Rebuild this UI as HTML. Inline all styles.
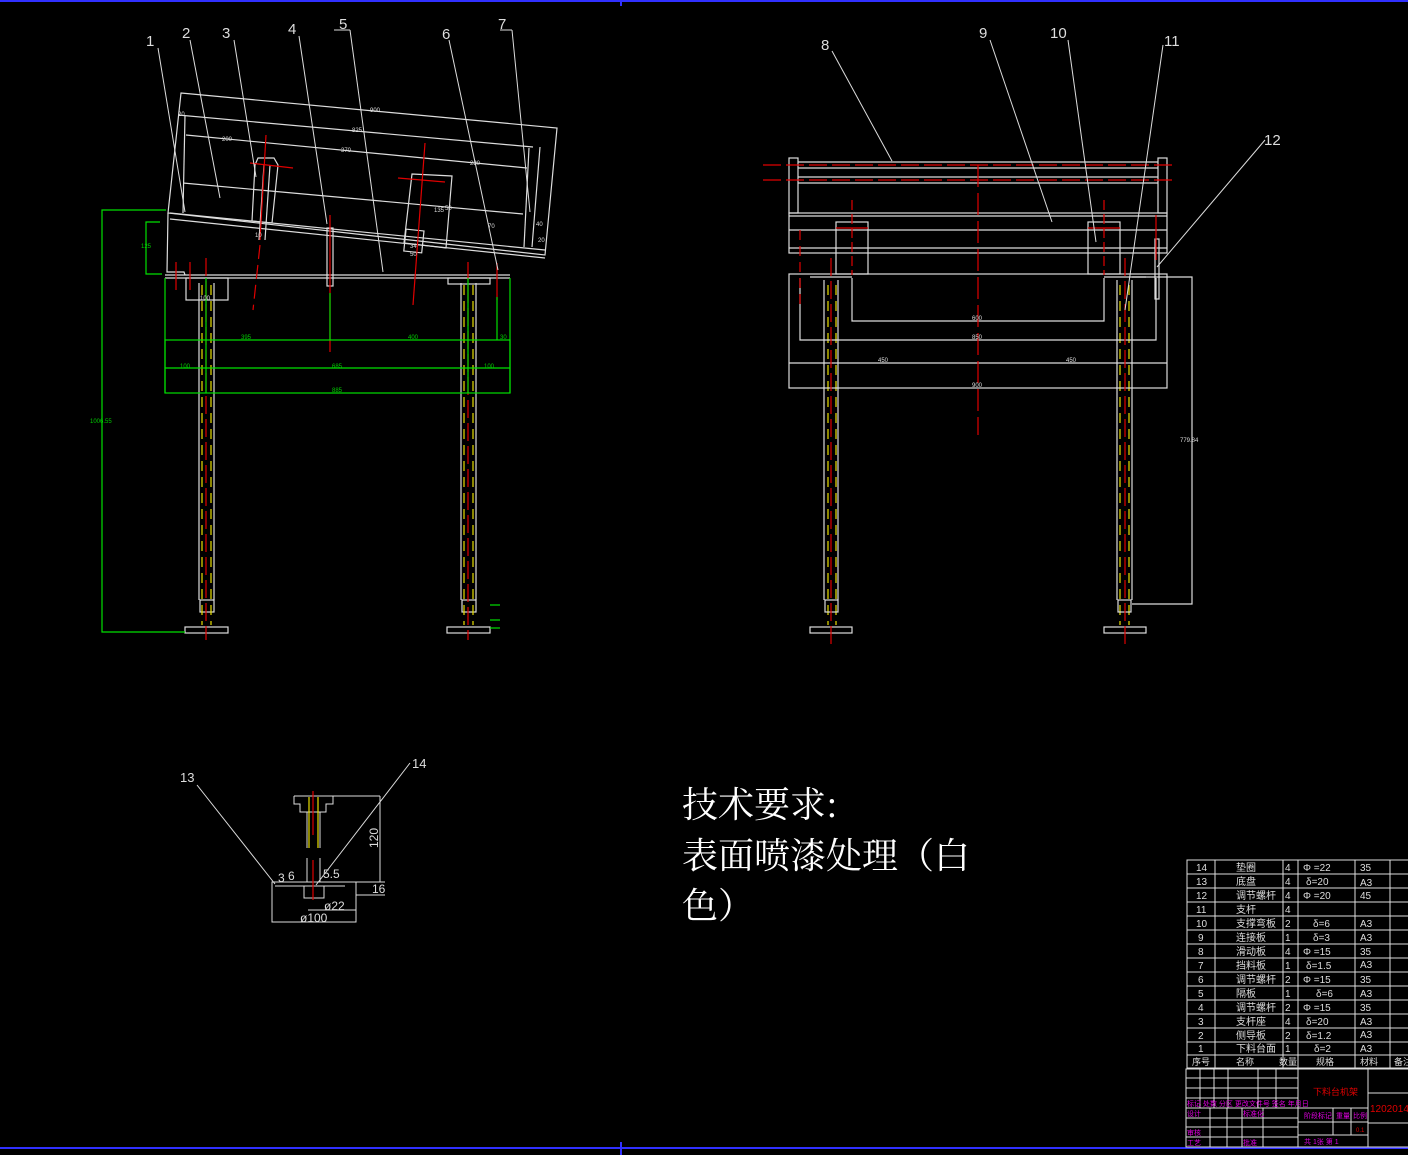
<!DOCTYPE html>
<html><head><meta charset="utf-8"><style>
html,body{margin:0;padding:0;background:#000;}
svg{display:block;}
text{font-family:"Liberation Sans","Noto Sans CJK SC",sans-serif;}
</style></head><body>
<svg width="1408" height="1155" viewBox="0 0 1408 1155" xmlns="http://www.w3.org/2000/svg">
<rect width="1408" height="1155" fill="#000"/>
<!-- border -->
<line x1="0" y1="1" x2="1408" y2="1" stroke="#3030ff" stroke-width="2"/>
<line x1="0" y1="1148" x2="1408" y2="1148" stroke="#3030ff" stroke-width="2"/>
<line x1="621" y1="0" x2="621" y2="6" stroke="#3030ff" stroke-width="2"/>
<line x1="621" y1="1142" x2="621" y2="1155" stroke="#3030ff" stroke-width="2"/>

<!-- ===== LEFT VIEW ===== -->
<g fill="none" stroke="#ddd" stroke-width="1.2">
<polygon points="181,93 557,128 545,255 168,213"/>
<line x1="178" y1="115" x2="533" y2="147"/>
<line x1="186" y1="135" x2="527" y2="168"/>
<line x1="183" y1="183" x2="523" y2="214"/>
<line x1="185" y1="115" x2="183" y2="213"/>
<line x1="529" y1="148" x2="524" y2="247"/>
<line x1="540" y1="147" x2="532" y2="247"/>
<line x1="170" y1="213" x2="545" y2="250"/>
<line x1="170" y1="219" x2="545" y2="258"/>
<!-- brackets -->
<polygon points="258,158 274,158 278,165 272,223 252,221 255,165"/>
<line x1="264" y1="165" x2="259" y2="240"/><line x1="270" y1="165" x2="265" y2="240"/>
<polygon points="412,174 452,176 446,248 404,243"/>
<rect x="405" y="230" width="18" height="22" transform="rotate(6 414 240)"/>
<!-- left side posts -->
<polyline points="168,213 167,272 184,272 185,275"/>
<line x1="165" y1="275" x2="510" y2="275"/>
<line x1="165" y1="278" x2="510" y2="278"/>
<rect x="186" y="278" width="42" height="22"/>
<rect x="448" y="278" width="42" height="6"/>
<rect x="327" y="228" width="6" height="58"/>
<!-- legs -->
<line x1="199" y1="283" x2="199" y2="600"/><line x1="214" y1="283" x2="214" y2="600"/>
<line x1="461" y1="283" x2="461" y2="600"/><line x1="476" y1="283" x2="476" y2="600"/>
<rect x="200" y="600" width="14" height="12"/>
<rect x="462" y="600" width="14" height="12"/>
<rect x="185" y="627" width="43" height="6"/>
<rect x="447" y="627" width="43" height="6"/>
</g>
<g stroke="#e8e000" stroke-width="1.2" stroke-dasharray="10,6">
<line x1="202" y1="285" x2="202" y2="625"/><line x1="211" y1="285" x2="211" y2="625"/>
<line x1="464" y1="285" x2="464" y2="625"/><line x1="473" y1="285" x2="473" y2="625"/>
<line x1="828" y1="285" x2="828" y2="625"/><line x1="836" y1="285" x2="836" y2="625"/>
<line x1="1120" y1="285" x2="1120" y2="625"/><line x1="1129" y1="285" x2="1129" y2="625"/>
</g>
<g stroke="#e00000" stroke-width="1.2" fill="none">
<line x1="206" y1="258" x2="206" y2="640" stroke-dasharray="18,5"/>
<line x1="468" y1="262" x2="468" y2="640" stroke-dasharray="18,5"/>
<line x1="330" y1="215" x2="330" y2="352"/>
<line x1="250" y1="163" x2="293" y2="168"/><line x1="266" y1="135" x2="260" y2="240"/>
<line x1="260" y1="245" x2="253" y2="310" stroke-dasharray="14,6"/>
<line x1="398" y1="178" x2="445" y2="182"/><line x1="425" y1="143" x2="413" y2="305"/>
<line x1="497" y1="263" x2="497" y2="300"/>
<line x1="190" y1="262" x2="190" y2="290"/><line x1="176" y1="262" x2="176" y2="290"/>
</g>
<g stroke="#00e000" stroke-width="1.2" fill="none">
<polyline points="166,210 102,210 102,632 185,632"/>
<polyline points="160,222 146,222 146,274 162,274"/>
<rect x="165" y="340" width="345" height="53"/>
<line x1="165" y1="368" x2="510" y2="368"/>
<line x1="165" y1="278" x2="165" y2="393"/><line x1="510" y1="278" x2="510" y2="393"/>
<line x1="330" y1="293" x2="330" y2="340"/>
<line x1="497" y1="297" x2="497" y2="340"/>
<line x1="206" y1="278" x2="206" y2="393"/><line x1="468" y1="278" x2="468" y2="393"/>
<line x1="490" y1="605" x2="500" y2="605"/><line x1="490" y1="620" x2="500" y2="620"/><line x1="490" y1="628" x2="500" y2="628"/>
</g>
<g fill="#0c0" font-size="6">
<text x="241" y="339">395</text><text x="408" y="339">400</text><text x="500" y="339">30</text>
<text x="180" y="368">100</text><text x="332" y="368">685</text><text x="484" y="368">100</text>
<text x="332" y="392">885</text><text x="90" y="423">1006.55</text><text x="141" y="248">125</text>
</g>
<g fill="#ddd" font-size="6">
<text x="370" y="112">900</text><text x="352" y="132">825</text><text x="341" y="152">370</text>
<text x="222" y="141">200</text><text x="470" y="165">230</text><text x="178" y="116">20</text>
<text x="445" y="210">50</text><text x="434" y="212">135</text><text x="536" y="226">40</text>
<text x="538" y="242">20</text><text x="488" y="228">70</text><text x="410" y="248">34</text>
<text x="410" y="256">50</text><text x="255" y="237">10</text><text x="200" y="300">100</text>
</g>
<!-- leaders left -->
<g stroke="#ddd" stroke-width="1">
<line x1="158" y1="48" x2="185" y2="212"/><line x1="190" y1="40" x2="220" y2="198"/>
<line x1="234" y1="40" x2="256" y2="177"/><line x1="299" y1="36" x2="327" y2="224"/>
<line x1="334" y1="30" x2="350" y2="30"/><line x1="350" y1="30" x2="383" y2="272"/>
<line x1="449" y1="40" x2="498" y2="270"/><line x1="500" y1="30" x2="512" y2="30"/>
<line x1="512" y1="30" x2="530" y2="212"/>
</g>
<g fill="#ddd" font-size="15">
<text x="146" y="46">1</text><text x="182" y="38">2</text><text x="222" y="38">3</text>
<text x="288" y="34">4</text><text x="339" y="29">5</text><text x="442" y="39">6</text><text x="498" y="29">7</text>
</g>

<!-- ===== RIGHT VIEW ===== -->
<g fill="none" stroke="#ddd" stroke-width="1.2">
<rect x="789" y="158" width="9" height="55"/><rect x="1158" y="158" width="9" height="55"/>
<line x1="798" y1="162" x2="1158" y2="162"/><line x1="798" y1="168" x2="1158" y2="168"/>
<line x1="798" y1="177" x2="1158" y2="177"/><line x1="798" y1="183" x2="1158" y2="183"/>
<rect x="789" y="213" width="378" height="40"/>
<line x1="789" y1="216" x2="1167" y2="216"/><line x1="789" y1="230" x2="1167" y2="230"/>
<line x1="789" y1="248" x2="1167" y2="248"/>
<rect x="836" y="222" width="32" height="52"/><rect x="1088" y="222" width="32" height="52"/>
<rect x="789" y="274" width="378" height="114"/>
<line x1="789" y1="363" x2="1167" y2="363"/>
<polyline points="852,278 852,321 1104,321 1104,278"/>
<polyline points="800,278 800,340 1156,340 1156,278"/>
<line x1="810" y1="277" x2="852" y2="277"/><line x1="1104" y1="277" x2="1146" y2="277"/>
<line x1="824" y1="280" x2="824" y2="600"/><line x1="838" y1="280" x2="838" y2="600"/>
<line x1="1117" y1="280" x2="1117" y2="600"/><line x1="1132" y1="280" x2="1132" y2="600"/>
<rect x="825" y="600" width="13" height="12"/><rect x="1118" y="600" width="13" height="12"/>
<rect x="810" y="627" width="42" height="6"/><rect x="1104" y="627" width="42" height="6"/>
<rect x="1155" y="239" width="4" height="60"/>
<polyline points="1132,277 1192,277 1192,604 1132,604"/>
</g>
<g stroke="#e00000" stroke-width="1.2" fill="none">
<line x1="763" y1="165" x2="1175" y2="165" stroke-dasharray="18,5"/>
<line x1="763" y1="180" x2="1175" y2="180" stroke-dasharray="18,5"/>
<line x1="978" y1="165" x2="978" y2="435" stroke-dasharray="22,6"/>
<line x1="852" y1="200" x2="852" y2="275" stroke-dasharray="10,4"/>
<line x1="1104" y1="200" x2="1104" y2="275" stroke-dasharray="10,4"/>
<line x1="836" y1="228" x2="868" y2="228"/><line x1="1088" y1="228" x2="1120" y2="228"/>
<line x1="831" y1="258" x2="831" y2="645" stroke-dasharray="18,5"/>
<line x1="1125" y1="258" x2="1125" y2="645" stroke-dasharray="18,5"/>
<line x1="800" y1="230" x2="800" y2="310" stroke-dasharray="10,6"/>
<line x1="1156" y1="215" x2="1156" y2="260"/>
</g>
<g fill="#ddd" font-size="6">
<text x="972" y="320">600</text><text x="972" y="339">850</text><text x="878" y="362">450</text>
<text x="1066" y="362">450</text><text x="972" y="387">900</text><text x="1180" y="442">779.84</text>
</g>
<g stroke="#ddd" stroke-width="1">
<line x1="832" y1="51" x2="892" y2="161"/><line x1="990" y1="40" x2="1052" y2="222"/>
<line x1="1068" y1="40" x2="1096" y2="242"/><line x1="1163" y1="45" x2="1125" y2="310"/>
<line x1="1265" y1="140" x2="1157" y2="267"/>
</g>
<g fill="#ddd" font-size="15">
<text x="821" y="50">8</text><text x="979" y="38">9</text><text x="1050" y="38">10</text>
<text x="1164" y="46">11</text><text x="1264" y="145">12</text>
</g>

<!-- ===== DETAIL ===== -->
<g fill="none" stroke="#ddd" stroke-width="1">
<polyline points="294,796 333,796 333,804 326,804 326,812 300,812 300,804 294,804 294,796"/>
<line x1="333" y1="796" x2="380" y2="796"/><line x1="380" y1="796" x2="380" y2="882"/>
<line x1="307" y1="812" x2="307" y2="848"/><line x1="320" y1="812" x2="320" y2="848"/>
<line x1="307" y1="858" x2="307" y2="882"/><line x1="320" y1="858" x2="320" y2="882"/>
<rect x="272" y="882" width="84" height="40"/>
<rect x="304" y="886" width="20" height="12"/>
<line x1="275" y1="886" x2="345" y2="886"/>
<line x1="356" y1="882" x2="385" y2="882"/><line x1="356" y1="895" x2="385" y2="895"/>
<line x1="197" y1="785" x2="275" y2="884"/><line x1="410" y1="763" x2="316" y2="885"/>
<line x1="308" y1="910" x2="356" y2="910"/>
</g>
<g stroke="#e8e000" stroke-width="1.2"><line x1="309" y1="797" x2="309" y2="848"/><line x1="318" y1="797" x2="318" y2="848"/></g>
<g stroke="#e00000" stroke-width="1.2"><line x1="313" y1="791" x2="313" y2="835"/><line x1="313" y1="860" x2="313" y2="900"/></g>
<g fill="#ddd" font-size="13">
<text x="180" y="782">13</text><text x="412" y="768">14</text>
<text x="278" y="882" font-size="12">3</text><text x="288" y="880" font-size="12">6</text>
<text x="323" y="878" font-size="12">5.5</text><text x="372" y="893" font-size="12">16</text>
<text x="324" y="910" font-size="12">ø22</text><text x="300" y="922" font-size="12">ø100</text>
<text x="378" y="848" font-size="12" transform="rotate(-90 378 848)">120</text>
</g>

<!-- tech requirements -->
<g fill="#fff" font-size="36" font-family="'Liberation Serif','Noto Serif CJK SC',serif">
<text x="682" y="817" style="font-family:'Noto Serif CJK SC',serif">技术要求:</text>
<text x="682" y="868" style="font-family:'Noto Serif CJK SC',serif">表面喷漆处理（白</text>
<text x="682" y="918" style="font-family:'Noto Serif CJK SC',serif">色）</text>
</g>

<!-- ===== PARTS TABLE ===== -->
<g stroke="#ddd" stroke-width="1" fill="none">
<rect x="1187" y="860" width="225" height="208"/>
<line x1="1215" y1="860" x2="1215" y2="1068"/><line x1="1283" y1="860" x2="1283" y2="1068"/>
<line x1="1298" y1="860" x2="1298" y2="1068"/><line x1="1355" y1="860" x2="1355" y2="1068"/>
<line x1="1390" y1="860" x2="1390" y2="1068"/>
<line x1="1187" y1="874" x2="1408" y2="874"/><line x1="1187" y1="888" x2="1408" y2="888"/>
<line x1="1187" y1="902" x2="1408" y2="902"/><line x1="1187" y1="916" x2="1408" y2="916"/>
<line x1="1187" y1="930" x2="1408" y2="930"/><line x1="1187" y1="944" x2="1408" y2="944"/>
<line x1="1187" y1="958" x2="1408" y2="958"/><line x1="1187" y1="972" x2="1408" y2="972"/>
<line x1="1187" y1="986" x2="1408" y2="986"/><line x1="1187" y1="1000" x2="1408" y2="1000"/>
<line x1="1187" y1="1014" x2="1408" y2="1014"/><line x1="1187" y1="1028" x2="1408" y2="1028"/>
<line x1="1187" y1="1042" x2="1408" y2="1042"/><line x1="1187" y1="1055" x2="1408" y2="1055"/>
</g>
<g fill="#ddd" font-size="10">
<text x="1196" y="871">14</text><text x="1236" y="871">垫圈</text><text x="1285" y="871">4</text><text x="1303" y="871">Φ =22</text><text x="1360" y="871">35</text>
<text x="1196" y="885">13</text><text x="1236" y="885">底盘</text><text x="1285" y="885">4</text><text x="1306" y="885">δ=20</text><text x="1360" y="886">A3</text>
<text x="1196" y="899">12</text><text x="1236" y="899">调节螺杆</text><text x="1285" y="899">4</text><text x="1303" y="899">Φ =20</text><text x="1360" y="899">45</text>
<text x="1196" y="913">11</text><text x="1236" y="913">支杆</text><text x="1285" y="913">4</text>
<text x="1196" y="927">10</text><text x="1236" y="927">支撑弯板</text><text x="1285" y="927">2</text><text x="1313" y="927">δ=6</text><text x="1360" y="927">A3</text>
<text x="1198" y="941">9</text><text x="1236" y="941">连接板</text><text x="1285" y="941">1</text><text x="1313" y="941">δ=3</text><text x="1360" y="941">A3</text>
<text x="1198" y="955">8</text><text x="1236" y="955">滑动板</text><text x="1285" y="955">4</text><text x="1303" y="955">Φ =15</text><text x="1360" y="955">35</text>
<text x="1198" y="969">7</text><text x="1236" y="969">挡料板</text><text x="1285" y="969">1</text><text x="1306" y="969">δ=1.5</text><text x="1360" y="968">A3</text>
<text x="1198" y="983">6</text><text x="1236" y="983">调节螺杆</text><text x="1285" y="983">2</text><text x="1303" y="983">Φ =15</text><text x="1360" y="983">35</text>
<text x="1198" y="997">5</text><text x="1236" y="997">隔板</text><text x="1285" y="997">1</text><text x="1316" y="997">δ=6</text><text x="1360" y="997">A3</text>
<text x="1198" y="1011">4</text><text x="1236" y="1011">调节螺杆</text><text x="1285" y="1011">2</text><text x="1303" y="1011">Φ =15</text><text x="1360" y="1011">35</text>
<text x="1198" y="1025">3</text><text x="1236" y="1025">支杆座</text><text x="1285" y="1025">4</text><text x="1306" y="1025">δ=20</text><text x="1360" y="1025">A3</text>
<text x="1198" y="1039">2</text><text x="1236" y="1039">侧导板</text><text x="1285" y="1039">2</text><text x="1306" y="1039">δ=1.2</text><text x="1360" y="1038">A3</text>
<text x="1198" y="1052">1</text><text x="1236" y="1052">下料台面</text><text x="1285" y="1052">1</text><text x="1314" y="1052">δ=2</text><text x="1360" y="1052">A3</text>
<text x="1192" y="1065" font-size="9">序号</text><text x="1236" y="1065" font-size="9">名称</text><text x="1279" y="1065" font-size="9">数量</text><text x="1316" y="1065" font-size="9">规格</text><text x="1360" y="1065" font-size="9">材料</text><text x="1394" y="1065" font-size="9">备注</text>
</g>
<!-- title block -->
<g stroke="#ddd" stroke-width="1" fill="none">
<rect x="1186" y="1069" width="225" height="78"/>
<line x1="1298" y1="1069" x2="1298" y2="1147"/><line x1="1368" y1="1069" x2="1368" y2="1147"/>
<line x1="1368" y1="1093" x2="1408" y2="1093"/><line x1="1368" y1="1123" x2="1408" y2="1123"/>
<line x1="1298" y1="1122" x2="1368" y2="1122"/><line x1="1298" y1="1135" x2="1368" y2="1135"/>
<line x1="1298" y1="1108" x2="1368" y2="1108"/>
<line x1="1333" y1="1108" x2="1333" y2="1135"/><line x1="1351" y1="1108" x2="1351" y2="1135"/>
<line x1="1186" y1="1078" x2="1298" y2="1078"/><line x1="1186" y1="1088" x2="1298" y2="1088"/>
<line x1="1186" y1="1098" x2="1298" y2="1098"/><line x1="1186" y1="1108" x2="1298" y2="1108"/>
<line x1="1186" y1="1118" x2="1298" y2="1118"/><line x1="1186" y1="1127" x2="1298" y2="1127"/>
<line x1="1186" y1="1137" x2="1298" y2="1137"/>
<line x1="1200" y1="1069" x2="1200" y2="1108"/><line x1="1214" y1="1069" x2="1214" y2="1108"/>
<line x1="1228" y1="1069" x2="1228" y2="1108"/><line x1="1258" y1="1069" x2="1258" y2="1108"/>
<line x1="1276" y1="1069" x2="1276" y2="1108"/>
<line x1="1210" y1="1108" x2="1210" y2="1147"/><line x1="1227" y1="1108" x2="1227" y2="1147"/>
<line x1="1242" y1="1108" x2="1242" y2="1147"/><line x1="1263" y1="1108" x2="1263" y2="1147"/>
</g>
<g fill="#e000e0" font-size="7">
<text x="1187" y="1106">标记 处数 分区 更改文件号 签名 年月日</text>
<text x="1187" y="1116">设计</text><text x="1243" y="1116">标准化</text>
<text x="1187" y="1135">审核</text><text x="1187" y="1145">工艺</text><text x="1243" y="1145">批准</text>
<text x="1304" y="1118">阶段标记</text><text x="1336" y="1118">重量</text><text x="1353" y="1118">比例</text>
<text x="1304" y="1144">共 1张 第 1</text>
</g>
<text x="1313" y="1095" fill="#e00000" font-size="9">下料台机架</text>
<text x="1370" y="1112" fill="#e00000" font-size="10">1202014</text>
<text x="1356" y="1132" fill="#e00000" font-size="6">0.1</text>
</svg>
</body></html>
